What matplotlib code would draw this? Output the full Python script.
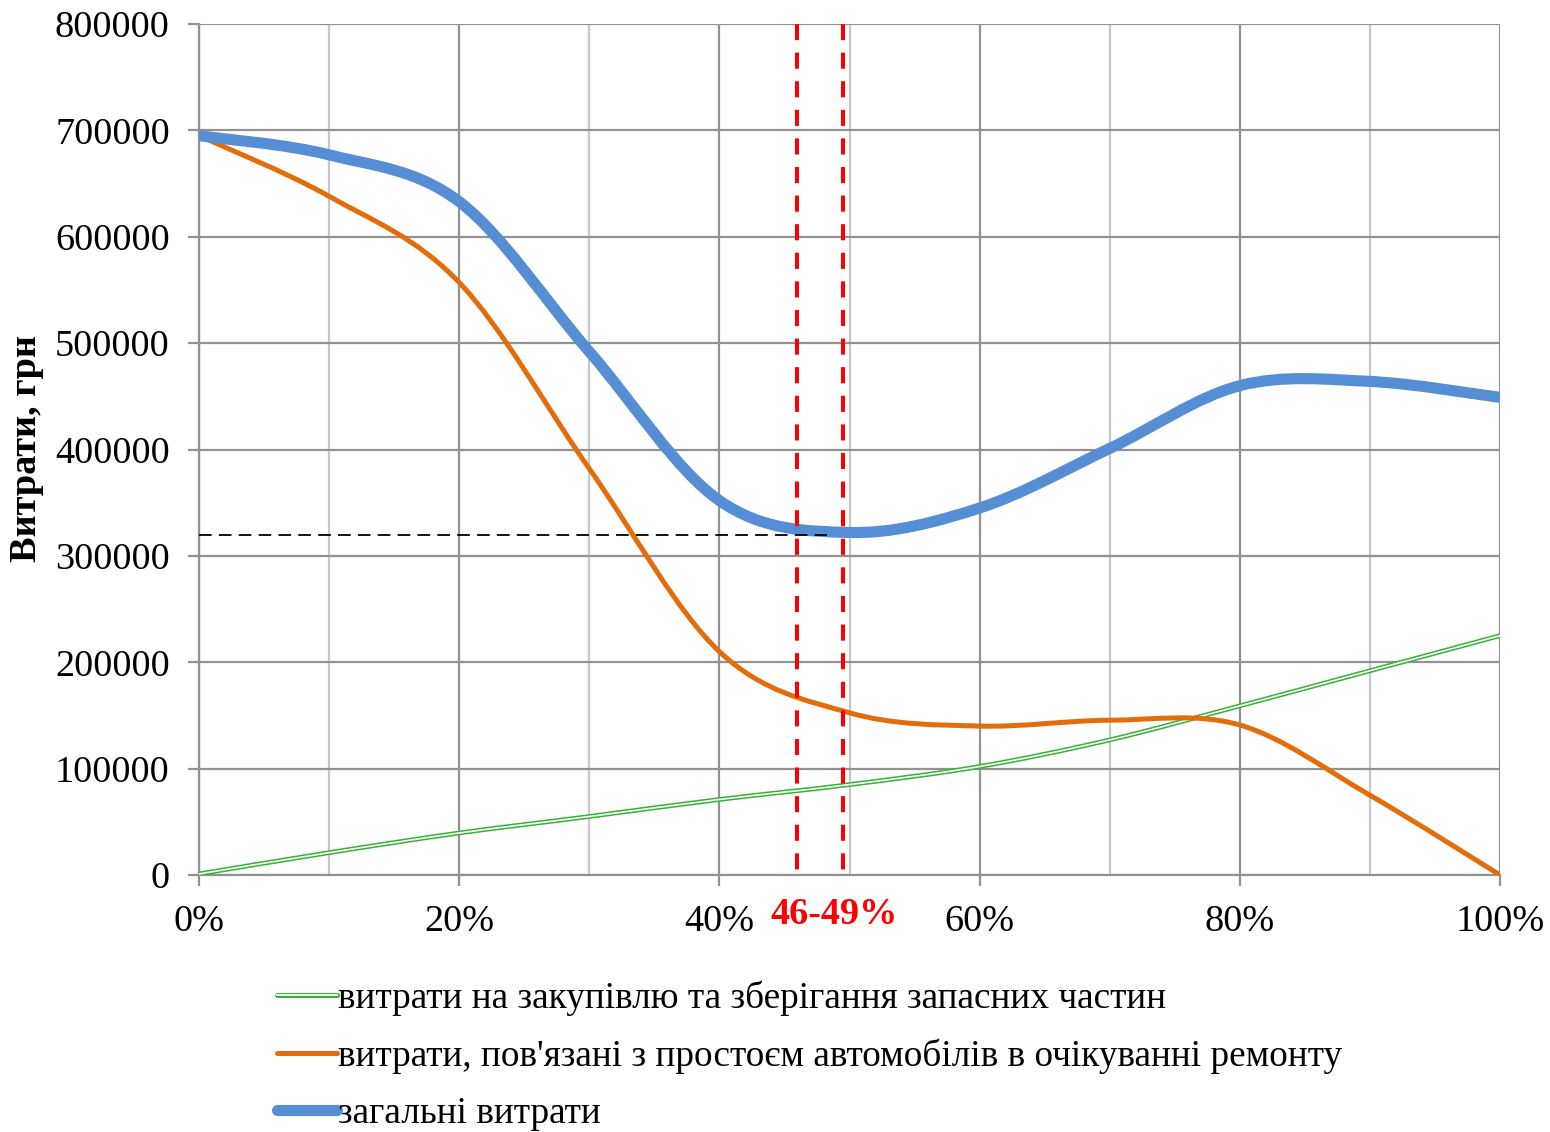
import numpy as np
import matplotlib.pyplot as plt
from matplotlib.path import Path
from matplotlib.patches import PathPatch
from matplotlib.lines import Line2D
from matplotlib.legend_handler import HandlerTuple

plt.rcParams['font.family'] = ['Liberation Serif', 'DejaVu Serif']

# share of stock, %
x_pct = [0, 10, 20, 30, 40, 50, 60, 70, 80, 90, 100]
# costs, UAH
purchase = [1000, 21000, 39500, 55000, 71000, 85000, 102000, 127000, 159000, 192000, 225000]
downtime = [695000, 638000, 557000, 382000, 210000, 152500, 140000, 145500, 141000, 75000, 0]
total = [695000, 677000, 633000, 492000, 352000, 322000, 345000, 401000, 460000, 464000, 449000]

opt_lo, opt_hi = 46, 49.5
opt_cost = 320000
opt_label = "46-49%"

labels = ["витрати на закупівлю та зберігання запасних частин",
          "витрати, пов'язані з простоєм автомобілів в очікуванні ремонту",
          "загальні витрати"]


def smooth_path(x, y):
    # excel-like smoothed line: cubic bezier through the points
    p = np.column_stack([x, y]).astype(float)
    n = len(p)
    verts = [p[0]]
    codes = [Path.MOVETO]
    for i in range(n - 1):
        p0 = p[i - 1] if i > 0 else p[i]
        p3 = p[i + 2] if i + 2 < n else p[i + 1]
        c1 = p[i] + (p[i + 1] - p0) / 6.0
        c2 = p[i + 1] - (p3 - p[i]) / 6.0
        verts += [c1, c2, p[i + 1]]
        codes += [Path.CURVE4] * 3
    return Path(verts, codes)


fs = 27.5
fig = plt.figure(figsize=(15.5, 11.32), dpi=100)
ax = fig.add_axes([199 / 1550, 1 - 875 / 1132, 1301 / 1550, 851 / 1132])

ax.set_xlim(0, 100)
ax.set_ylim(0, 800000)
ax.set_xticks(np.arange(0, 101, 20))
ax.set_xticks(np.arange(10, 100, 20), minor=True)
ax.set_yticks(np.arange(0, 800001, 100000))
ax.set_xticklabels([f"{v}%" for v in range(0, 101, 20)])
ax.grid(which='major', color='#929292', lw=1.6, zorder=0)
ax.grid(which='minor', axis='x', color='#c8c8c8', lw=1.6, zorder=0)
for s in ['top', 'right']:
    ax.spines[s].set_visible(False)
for s in ['left', 'bottom']:
    ax.spines[s].set_color('#929292')
    ax.spines[s].set_linewidth(1.6)
ax.tick_params(which='major', length=8, width=1.6, color='#929292', labelsize=fs, pad=13)
ax.tick_params(which='minor', length=0)
ax.set_axisbelow(True)

# purchase: double line
ax.add_patch(PathPatch(smooth_path(x_pct, purchase), fill=False, ec='#36b236', lw=3.4, zorder=3))
ax.add_patch(PathPatch(smooth_path(x_pct, purchase), fill=False, ec='white', lw=1.2, zorder=3))
ax.add_patch(PathPatch(smooth_path(x_pct, downtime), fill=False, ec='#e46c0a', lw=3.6, zorder=4,
                       capstyle='round'))
ax.add_patch(PathPatch(smooth_path(x_pct, total), fill=False, ec='#558ed5', lw=8, zorder=5,
                       capstyle='round'))

ax.plot([0, 48.3], [opt_cost, opt_cost], color='black', lw=1.3, ls=(0, (7, 4)), zorder=6)
for xv in [opt_lo, opt_hi]:
    ax.plot([xv, xv], [800000, -4000], color='#ff0000', lw=2.9, ls=(0, (4, 3.1)), zorder=7,
            clip_on=False)
ax.text((opt_lo + opt_hi) / 2 + 1.1, -37000, opt_label, color='#ff0000', fontsize=fs,
        fontweight='bold', ha='center', va='center')

fig.text(27 / 1550, 1 - 449 / 1132, "Витрати, грн", rotation=90, fontsize=fs,
         fontweight='bold', ha='center', va='center')

h1 = (Line2D([], [], color='#36b236', lw=3.6, solid_capstyle='round'),
      Line2D([], [], color='white', lw=1.3))
h2 = Line2D([], [], color='#e46c0a', lw=3.6, solid_capstyle='round')
h3 = Line2D([], [], color='#558ed5', lw=8, solid_capstyle='round')
fig.legend([h1, h2, h3], labels, loc='upper left', bbox_to_anchor=(277 / 1550, 1 - 981 / 1132),
           frameon=False, fontsize=26.8, handlelength=1.6, handletextpad=0.05,
           labelspacing=0.6, borderpad=0, borderaxespad=0,
           handler_map={tuple: HandlerTuple(ndivide=1)})

fig.savefig('out.png', dpi=100)
